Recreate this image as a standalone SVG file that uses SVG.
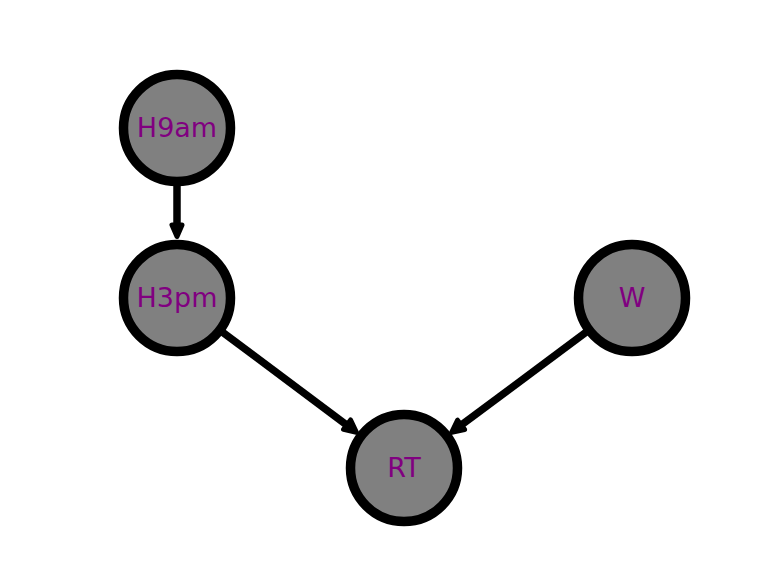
<svg xmlns="http://www.w3.org/2000/svg" width="780" height="584" viewBox="0 0 780 584">
<style>
.node circle{fill:#808080;stroke:#000;stroke-width:9.5}
.node text{font-family:"DejaVu Sans",sans-serif;font-size:27px;fill:#800080;text-anchor:middle}
.edge line{stroke:#000;stroke-width:7.5}
.edge polygon{fill:#000;stroke:#000;stroke-width:5;stroke-linejoin:round}
</style>
<rect width="780" height="584" fill="#fff"/>
<g id="connectors">
<g class="edge"><line x1="177" y1="185" x2="177" y2="228"/><polygon points="177,236.5 172,225 182,225"/></g>
<g class="edge"><line x1="222.6" y1="332.2" x2="348" y2="426"/><polygon points="356.4,432.3 343.5,429.4 350.6,420"/></g>
<g class="edge"><line x1="586.3" y1="332.1" x2="460" y2="426.1"/><polygon points="451.7,432.4 464.6,429.6 457.5,420.2"/></g>
</g>
<g id="H9am" class="node"><circle cx="177" cy="128" r="53.5"/><text x="177" y="136.5">H9am</text></g>
<g id="H3pm" class="node"><circle cx="177" cy="298" r="53.5"/><text x="177" y="306.5">H3pm</text></g>
<g id="W" class="node"><circle cx="632" cy="298" r="53.5"/><text x="632" y="306.5">W</text></g>
<g id="RT" class="node"><circle cx="404" cy="468" r="53.5"/><text x="404" y="476.5">RT</text></g>
</svg>
